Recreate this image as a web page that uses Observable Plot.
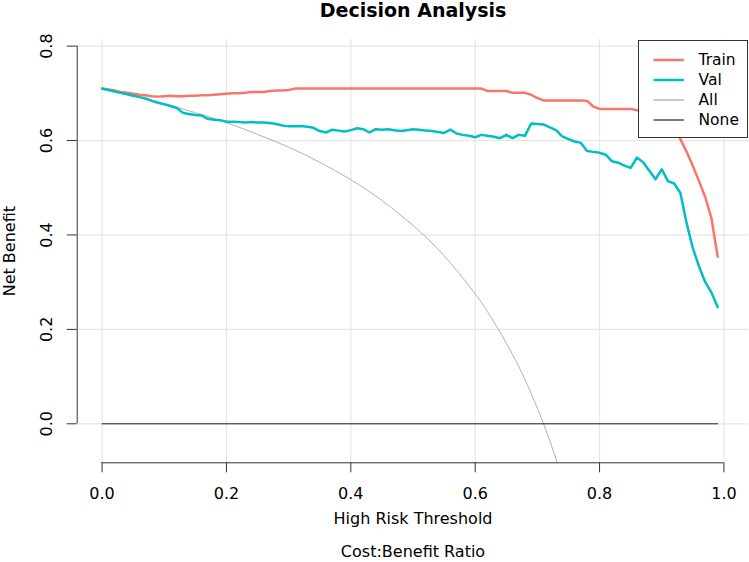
<!DOCTYPE html>
<html>
<head>
<meta charset="utf-8">
<script src="https://cdn.jsdelivr.net/npm/d3@7"></script>
<script src="https://cdn.jsdelivr.net/npm/@observablehq/plot@0.6"></script>
<style>
  html, body { margin: 0; padding: 0; background: #fff; }
  #wrap { position: relative; width: 749px; height: 562px; font-family: "DejaVu Sans", sans-serif; }
  #legend { position: absolute; left: 637.5px; top: 40px; width: 110px; height: 98px; box-sizing: border-box; border: 1px solid #333; background: #fff; }
  #legend svg { position: absolute; left: 0; top: 0; }
</style>
</head>
<body>
<div id="wrap"><div id="chart"></div><div id="legend"></div></div>
<script>
// ---- data ----
const thresholds = [0,0.01,0.02,0.03,0.04,0.05,0.06,0.07,0.08,0.09,
  0.10,0.11,0.12,0.13,0.14,0.15,0.16,0.17,0.18,0.19,
  0.20,0.21,0.22,0.23,0.24,0.25,0.26,0.27,0.28,0.29,
  0.30,0.31,0.32,0.33,0.34,0.35,0.36,0.37,0.38,0.39,
  0.40,0.41,0.42,0.43,0.44,0.45,0.46,0.47,0.48,0.49,
  0.50,0.51,0.52,0.53,0.54,0.55,0.56,0.57,0.58,0.59,
  0.60,0.61,0.62,0.63,0.64,0.65,0.66,0.67,0.68,0.69,
  0.70,0.71,0.72,0.73,0.74,0.75,0.76,0.77,0.78,0.79,
  0.80,0.81,0.82,0.83,0.84,0.85,0.86,0.87,0.88,0.89,
  0.90,0.91,0.92,0.93,0.94,0.95,0.96,0.97,0.98,0.99];
const trainNB = [0.710,0.708,0.706,0.703,0.701,0.699,0.697,0.696,0.694,0.693,
  0.694,0.695,0.694,0.694,0.695,0.695,0.696,0.696,0.697,0.698,
  0.699,0.700,0.700,0.701,0.703,0.703,0.703,0.705,0.706,0.706,
  0.707,0.710,0.710,0.710,0.710,0.710,0.710,0.710,0.710,0.710,
  0.710,0.710,0.710,0.710,0.710,0.710,0.710,0.710,0.710,0.710,
  0.710,0.710,0.710,0.710,0.710,0.710,0.710,0.710,0.710,0.710,
  0.710,0.710,0.705,0.705,0.705,0.705,0.701,0.701,0.701,0.697,
  0.690,0.685,0.685,0.685,0.685,0.685,0.685,0.685,0.684,0.672,
  0.667,0.667,0.667,0.667,0.667,0.667,0.664,0.662,0.660,0.657,
  0.652,0.645,0.630,0.603,0.576,0.546,0.514,0.480,0.435,0.354];
const valNB = [0.710,0.707,0.704,0.701,0.698,0.695,0.692,0.689,0.684,0.680,
  0.677,0.673,0.669,0.659,0.656,0.654,0.653,0.646,0.644,0.643,
  0.640,0.640,0.639,0.638,0.639,0.638,0.638,0.637,0.635,0.632,
  0.630,0.630,0.631,0.629,0.627,0.620,0.617,0.623,0.621,0.619,
  0.622,0.626,0.624,0.617,0.624,0.623,0.624,0.622,0.620,0.622,
  0.624,0.623,0.621,0.620,0.618,0.616,0.623,0.615,0.612,0.610,
  0.607,0.612,0.610,0.608,0.605,0.612,0.605,0.612,0.610,0.636,
  0.635,0.634,0.628,0.622,0.609,0.603,0.598,0.595,0.578,0.576,
  0.574,0.570,0.556,0.553,0.547,0.542,0.564,0.554,0.536,0.518,
  0.539,0.514,0.509,0.489,0.425,0.372,0.333,0.300,0.278,0.247];
const allThresholds = [0,0.05,0.10,0.15,0.20,0.25,0.30,0.35,0.40,0.45,0.50,0.55,0.60,0.62,0.64,0.66,0.68,0.70,0.72,0.74];
const allNB = [0.710,0.695,0.678,0.659,0.638,0.613,0.586,0.554,0.517,0.473,0.420,0.356,0.275,0.237,0.194,0.147,0.094,0.033,-0.036,-0.115];
const noneThresholds = [0, 0.99];
const noneNB = [0, 0];
const xTicks = [0, 0.2, 0.4, 0.6, 0.8, 1.0];
const yTicks = [0, 0.2, 0.4, 0.6, 0.8];
const seriesNames = ["Train", "Val", "All", "None"];
const seriesColors = ["#F8766D", "#00BFC4", "#B0B0B0", "#222222"];
const seriesWidths = [2.5, 2.5, 1, 1];

const xDomain = [-0.04, 1.04];
const yDomain = [-0.0826, 0.814];

const train = thresholds.map((t, i) => ({t, nb: trainNB[i]}));
const val = thresholds.map((t, i) => ({t, nb: valNB[i]}));
const all = allThresholds.map((t, i) => ({t, nb: allNB[i]}));
const none = noneThresholds.map((t, i) => ({t, nb: noneNB[i]}));

const chart = Plot.plot({
  width: 749,
  height: 562,
  marginLeft: 76.7,
  marginRight: 0.7,
  marginTop: 39,
  marginBottom: 99.7,
  style: {fontFamily: "DejaVu Sans, sans-serif", fontSize: "16px", background: "#fff", color: "#000", overflow: "visible"},
  x: {domain: xDomain},
  y: {domain: yDomain},
  marks: [
    Plot.gridX(xTicks, {stroke: "#e6e6e6", strokeOpacity: 1, strokeWidth: 1.2}),
    Plot.gridY(yTicks, {stroke: "#e6e6e6", strokeOpacity: 1, strokeWidth: 1.2}),
    Plot.line(all, {x: "t", y: "nb", stroke: seriesColors[2], strokeWidth: seriesWidths[2], curve: "natural", clip: true}),
    Plot.line(none, {x: "t", y: "nb", stroke: seriesColors[3], strokeWidth: seriesWidths[3]}),
    Plot.line(train, {x: "t", y: "nb", stroke: seriesColors[0], strokeWidth: seriesWidths[0], strokeLinejoin: "round"}),
    Plot.line(val, {x: "t", y: "nb", stroke: seriesColors[1], strokeWidth: seriesWidths[1], strokeLinejoin: "round"}),
    // axes
    Plot.ruleY([yDomain[0]], {x1: xTicks[0], x2: xTicks[xTicks.length - 1], stroke: "#333", strokeWidth: 1}),
    Plot.ruleX([xDomain[0]], {y1: yTicks[0], y2: yTicks[yTicks.length - 1], stroke: "#333", strokeWidth: 1}),
    Plot.axisX(xTicks, {tickSize: 10, tickPadding: 15, tickFormat: d3.format(".1f"), label: null, stroke: "#333", fontSize: 16}),
    Plot.axisY(yTicks, {tickSize: 10, tickFormat: () => "", label: null, stroke: "#333"}),
    Plot.text(yTicks, {y: d => d, text: d3.format(".1f"), frameAnchor: "left", dx: -30, rotate: -90, textAnchor: "middle", lineAnchor: "middle", fontSize: 16}),
    // titles
    Plot.text(["Decision Analysis"], {frameAnchor: "top", dy: -23, lineAnchor: "bottom", fontWeight: "bold", fontSize: 19}),
    Plot.text(["High Risk Threshold"], {frameAnchor: "bottom", dy: 61, lineAnchor: "bottom", fontSize: 16}),
    Plot.text(["Cost:Benefit Ratio"], {frameAnchor: "bottom", dy: 94, lineAnchor: "bottom", fontSize: 16}),
    Plot.text(["Net Benefit"], {frameAnchor: "left", dx: -67, rotate: -90, textAnchor: "middle", lineAnchor: "middle", fontSize: 16})
  ]
});
document.getElementById("chart").appendChild(chart);

// legend
const lg = d3.select("#legend").append("svg").attr("width", 110).attr("height", 98);
seriesNames.forEach((name, i) => {
  const cy = 19 + i * 20;
  lg.append("line").attr("x1", 14.5).attr("x2", 45).attr("y1", cy).attr("y2", cy)
    .attr("stroke", i === 2 ? "#C8C8C8" : seriesColors[i]).attr("stroke-width", i < 2 ? 2.5 : (i === 2 ? 2 : 1.2));
  lg.append("text").attr("x", 59.5).attr("y", cy).attr("dy", "0.35em")
    .attr("font-family", "DejaVu Sans, sans-serif").attr("font-size", 15.5).attr("fill", "#000").text(name);
});
</script>
</body>
</html>
